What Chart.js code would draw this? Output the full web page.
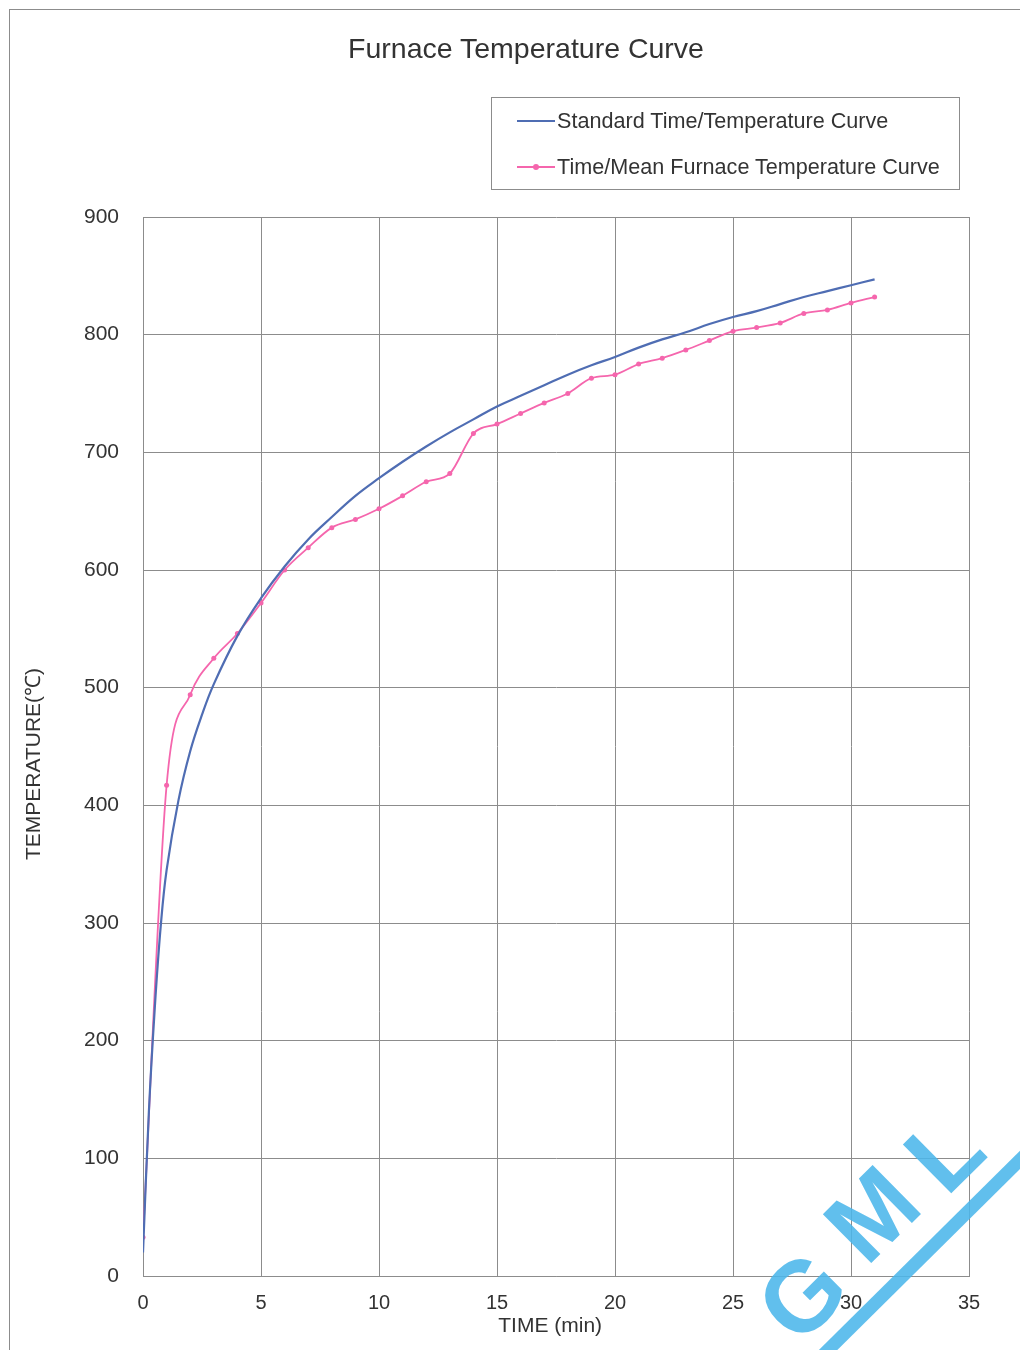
<!DOCTYPE html>
<html>
<head>
<meta charset="utf-8">
<script src="https://cdn.jsdelivr.net/npm/chart.js@4.4.1/dist/chart.umd.min.js"></script>
<style>
  body { margin: 0; background: #fff; }
  #wrap { position: relative; width: 1020px; height: 1350px; overflow: hidden; font-family: "Liberation Sans", Arial, sans-serif; color: #333; }
  #frame { position: absolute; left: 9px; top: 9px; width: 1040px; height: 1400px; border-left: 1px solid #8c8c8c; border-top: 1px solid #8c8c8c; }
  #title { position: absolute; left: 0; width: 1052px; top: 32px; text-align: center; font-size: 28.5px; }
  #legend { position: absolute; left: 491px; top: 97px; width: 467px; height: 91px; border: 1px solid #8c8c8c; font-size: 21.6px; }
  .row { position: absolute; left: 25px; height: 24px; display: flex; align-items: center; }
  .swatch { position: relative; width: 38px; height: 2px; margin-right: 2px; }
  .dot { position: absolute; left: 16px; top: -2px; width: 6px; height: 6px; border-radius: 50%; }
  canvas { position: absolute; left: 0; top: 0; }
</style>
</head>
<body>
<div id="wrap">
  <canvas id="furnace" width="1020" height="1350"></canvas>
  <div id="frame"></div>
  <div id="title">Furnace Temperature Curve</div>
  <div id="legend"></div>
</div>
<script>
// standard curve
const stdTime = [0, 0.25, 0.5, 0.75, 1, 1.5, 2, 2.5, 3, 4, 5, 6, 7, 8, 9, 10, 11, 12, 13, 14, 15,
                 16, 17, 18, 19, 20, 21, 22, 23, 24, 25, 26, 27, 28, 29, 30, 31];
const stdTemp = [20, 140, 228, 297, 345, 404, 446, 477, 503, 544, 576, 603, 626, 645, 663, 678, 692, 705, 717, 728, 739,
                 748, 757, 766, 774, 781, 789, 796, 802, 809, 815, 820, 826, 832, 837, 842, 847];

// measured mean furnace temperature, one point per minute
const meanTime = [0, 1, 2, 3, 4, 5, 6, 7, 8, 9, 10, 11, 12, 13, 14, 15,
                  16, 17, 18, 19, 20, 21, 22, 23, 24, 25, 26, 27, 28, 29, 30, 31];
const meanTemp = [33, 417, 494, 525, 546, 572, 600, 619, 636, 643, 652, 663, 675, 682, 716, 724,
                  733, 742, 750, 763, 766, 775, 780, 787, 795, 803, 806, 810, 818, 821, 827, 832];

const seriesNames = ['Standard Time/Temperature Curve', 'Time/Mean Furnace Temperature Curve'];
const seriesColors = ['#4f6db3', '#f566ad'];

const xTicks = [0, 5, 10, 15, 20, 25, 30, 35];
const yTicks = [0, 100, 200, 300, 400, 500, 600, 700, 800, 900];

const font = '"Liberation Sans", Arial, sans-serif';

// html legend in a box, like the original sheet
const legendBox = document.getElementById('legend');
seriesNames.forEach((name, i) => {
    const row = document.createElement('div');
    row.className = 'row';
    row.style.top = (i === 0 ? 11 : 57) + 'px';
    const sw = document.createElement('div');
    sw.className = 'swatch';
    sw.style.background = seriesColors[i];
    if (i === 1) {
        const d = document.createElement('div');
        d.className = 'dot';
        d.style.background = seriesColors[i];
        sw.appendChild(d);
    }
    row.appendChild(sw);
    row.appendChild(document.createTextNode(name));
    legendBox.appendChild(row);
});

// the lab stamp in the bottom corner
const watermark = {
    id: 'watermark',
    afterDraw(chart) {
        const ctx = chart.ctx;
        const blue = 'rgba(75, 182, 234, 0.88)';
        const letters = [['G', 804, 1298], ['M', 874, 1216], ['L', 946, 1154]];
        ctx.save();
        ctx.fillStyle = blue;
        ctx.font = 'bold 100px ' + font;
        ctx.textAlign = 'center';
        ctx.textBaseline = 'middle';
        letters.forEach(([ch, x, y]) => {
            ctx.save();
            ctx.translate(x, y);
            ctx.rotate(-0.78);
            ctx.fillText(ch, 0, 4);
            ctx.restore();
        });
        ctx.strokeStyle = blue;
        ctx.lineWidth = 13;
        ctx.beginPath();
        ctx.moveTo(818, 1360);
        ctx.lineTo(1030, 1150);
        ctx.stroke();
        ctx.restore();
    }
};

new Chart(document.getElementById('furnace'), {
    type: 'line',
    data: {
        datasets: [{
            label: seriesNames[0],
            data: stdTime.map((t, i) => ({ x: t, y: stdTemp[i] })),
            borderColor: seriesColors[0],
            borderWidth: 2.2,
            pointRadius: 0,
            tension: 0.4,
        }, {
            label: seriesNames[1],
            data: meanTime.map((t, i) => ({ x: t, y: meanTemp[i] })),
            borderColor: seriesColors[1],
            backgroundColor: seriesColors[1],
            borderWidth: 1.8,
            pointRadius: 2.5,
            pointBorderWidth: 0,
            cubicInterpolationMode: 'monotone',
        }]
    },
    options: {
        responsive: false,
        animation: false,
        devicePixelRatio: 1,
        layout: { padding: { left: 14, top: 217, right: 51, bottom: 0 } },
        plugins: {
            legend: { display: false },
            tooltip: { enabled: false },
        },
        scales: {
            x: {
                type: 'linear',
                min: 0,
                max: 35,
                afterBuildTicks: s => { s.ticks = xTicks.map(v => ({ value: v })); },
                afterFit: s => { s.height = 74; },
                grid: { color: '#8c8c8c', drawTicks: false, lineWidth: 1 },
                border: { color: '#8c8c8c' },
                ticks: { padding: 15, color: '#333', font: { family: font, size: 20 } },
                title: {
                    display: true,
                    text: 'TIME (min)  ',
                    color: '#333',
                    font: { family: font, size: 21 },
                    padding: { top: 0, bottom: 11 },
                },
            },
            y: {
                min: 0,
                max: 900,
                afterBuildTicks: s => { s.ticks = yTicks.map(v => ({ value: v })); },
                afterFit: s => { s.width = 129; },
                grid: { color: '#8c8c8c', drawTicks: false, lineWidth: 1 },
                border: { color: '#8c8c8c' },
                ticks: { padding: 24, color: '#333', font: { family: font, size: 21 } },
                title: {
                    display: true,
                    text: 'TEMPERATURE(℃)      ',
                    color: '#333',
                    font: { family: font, size: 21 },
                    padding: { top: 8, bottom: 0 },
                },
            },
        },
    },
    plugins: [watermark],
});
</script>
</body>
</html>
